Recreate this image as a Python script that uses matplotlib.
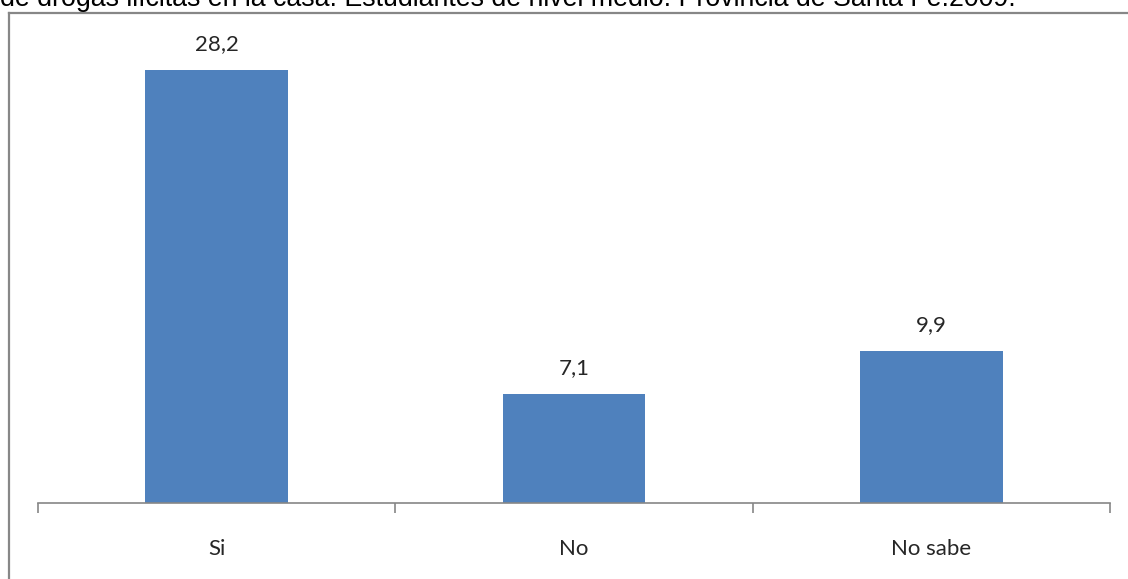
import matplotlib.pyplot as plt
from matplotlib.lines import Line2D

# data
categorias = ["Si", "No", "No sabe"]
valores = [28.2, 7.1, 9.9]
etiquetas = ["28,2", "7,1", "9,9"]
titulo = "de drogas ilícitas en la casa. Estudiantes de nivel medio. Provincia de Santa Fe.2009."

W, H = 1128, 579
fig = plt.figure(figsize=(W / 100, H / 100), dpi=100)

# title, clipped by the top of the image (as in the reference)
fig.text(0.0, (H - 5.7) / H, titulo, family="Liberation Sans", fontsize=19.3,
         color="black", va="baseline", ha="left")

# outer chart border (only top and left visible)
borde = "#878787"
fig.add_artist(Line2D([8.5 / W, 1.01], [(H - 12.5) / H] * 2, color=borde, lw=1.6,
                      transform=fig.transFigure))
fig.add_artist(Line2D([8.5 / W] * 2, [-0.01, (H - 12.5) / H], color=borde, lw=1.6,
                      transform=fig.transFigure))

ax = fig.add_axes([38 / W, 76 / H, (1110 - 38) / W, (503 - 42) / H])
x = range(len(categorias))
ax.bar(x, valores, width=0.4, color="#4F81BD")
for xi, v, t in zip(x, valores, etiquetas):
    ax.text(xi, v + 1.0, t, ha="center", va="bottom", family="Lato",
            fontsize=16, color="#262626")

ax.set_xlim(-0.5, len(categorias) - 0.5)
ax.set_ylim(0, 30)
for s in ["left", "right", "top"]:
    ax.spines[s].set_visible(False)
ax.spines["bottom"].set_color("#868686")
ax.spines["bottom"].set_linewidth(1.2)
ax.set_yticks([])

ax.set_xticks([i - 0.5 for i in range(len(categorias) + 1)])
ax.set_xticklabels([])
ax.tick_params(axis="x", which="major", length=7.5, color="#868686", width=1.2)
ax.set_xticks(list(x), minor=True)
ax.set_xticklabels(categorias, minor=True, family="Lato", fontsize=16, color="#262626")
ax.tick_params(axis="x", which="minor", length=0, pad=26)

fig.savefig("out.png", dpi=100)
